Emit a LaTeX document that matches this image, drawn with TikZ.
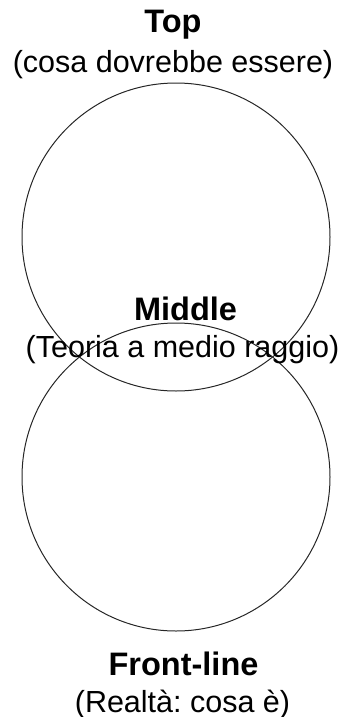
\documentclass[tikz,border=0pt]{standalone}
\usepackage{fontspec}
\setmainfont{Liberation Sans}
\frenchspacing
\tikzset{
  titolo/.style={anchor=base,font=\bfseries\fontsize{32.5}{37}\selectfont},
  sottotitolo/.style={anchor=base,font=\fontsize{30.5}{37}\selectfont},
  cerchio/.style={line width=1pt,black!85}
}
\begin{document}
\begin{tikzpicture}[x=1pt,y=-1pt]
  \useasboundingbox (0,0) rectangle (343,717);

  % Cerchi
  \draw[cerchio] (176,237) circle (154);
  \draw[cerchio] (176,477) circle (154);

  % Livello alto
  \node[titolo] (top) at (173,33) {Top};
  \node[sottotitolo] (topsub) at (173,72) {(cosa dovrebbe essere)};

  % Livello medio
  \node[titolo] (middle) at (185.5,320) {Middle};
  \node[sottotitolo] (middlesub) at (182.5,357) {(Teoria a medio raggio)};

  % Livello base
  \node[titolo] (front) at (183.5,675) {Front-line};
  \node[sottotitolo] (frontsub) at (182.5,712) {(Realtà: cosa è)};
\end{tikzpicture}
\end{document}
